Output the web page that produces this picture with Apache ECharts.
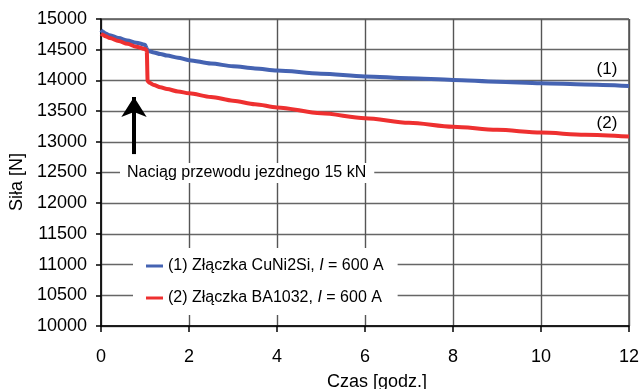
<!DOCTYPE html>
<html>
<head>
<meta charset="utf-8">
<script src="https://cdn.jsdelivr.net/npm/echarts@6/dist/echarts.min.js"></script>
<style>
  html, body { margin: 0; padding: 0; background: #fff; }
  #chart { width: 642px; height: 389px; }
</style>
</head>
<body>
<div id="chart"></div>
<script>
// Time in hours
const czas = [0, 0.05, 0.1, 0.2, 0.4, 0.6, 0.8, 1.0, 1.03, 1.04, 1.06, 1.1, 1.2, 1.35, 1.5, 1.75, 2, 2.5, 3, 3.5, 4, 5, 6, 7, 8, 9, 10, 11, 12];

// (1) CuNi2Si joint, force [N]
const silaCuNi2Si = [14820, 14790, 14765, 14735, 14690, 14650, 14615, 14580, 14540, 14510, 14490, 14475, 14455, 14430, 14405, 14370, 14330, 14275, 14230, 14195, 14160, 14110, 14065, 14035, 14008, 13980, 13955, 13935, 13910];

// (2) BA1032 joint, force [N]
const silaBA1032 = [14760, 14740, 14720, 14690, 14640, 14595, 14550, 14510, 14495, 14480, 13990, 13960, 13925, 13890, 13860, 13820, 13790, 13730, 13670, 13612, 13560, 13465, 13385, 13310, 13245, 13195, 13150, 13115, 13085];

const nazwySerii = ['(1) Złączka CuNi2Si, I = 600 A', '(2) Złączka BA1032, I = 600 A'];
const xTicks = [0, 12, 2];         // min, max, interval
const yTicks = [10000, 15000, 500];

// Arrow marking the contact-wire tension step: [time, from force, to force]
const strzalka = [0.75, 12800, 13730];

const FONT = '"Liberation Sans", Arial, Helvetica, sans-serif';

const chart = echarts.init(document.getElementById('chart'), null, { renderer: 'canvas' });

function pary(xs, ys) { return xs.map((x, i) => [x, ys[i]]); }

chart.setOption({
  animation: false,
  backgroundColor: '#fff',
  textStyle: { fontFamily: FONT },
  grid: {
    left: 101, top: 19, right: 13, bottom: 63,
    show: true, borderColor: '#000', borderWidth: 1
  },
  xAxis: {
    type: 'value',
    min: xTicks[0], max: xTicks[1], interval: xTicks[2],
    axisLine: { show: true, onZero: false, lineStyle: { color: '#000', width: 1.5 } },
    axisTick: { show: true, length: 6, lineStyle: { color: '#000', width: 1.5 } },
    axisLabel: { color: '#000', fontSize: 18, margin: 22, fontFamily: FONT },
    splitLine: { show: true, lineStyle: { color: '#555', width: 1.4 } }
  },
  yAxis: {
    type: 'value',
    min: yTicks[0], max: yTicks[1], interval: yTicks[2],
    axisLine: { show: true, onZero: false, lineStyle: { color: '#000', width: 1.5 } },
    axisTick: { show: true, length: 5, lineStyle: { color: '#000', width: 1.5 } },
    axisLabel: { color: '#000', fontSize: 18, margin: 14, fontFamily: FONT, formatter: function (v) { return String(v); } },
    splitLine: { show: true, lineStyle: { color: '#666', width: 1.4 } }
  },
  legend: {
    orient: 'vertical',
    left: 133, top: 248,
    padding: [10, 14, 9, 13],
    backgroundColor: '#fff',
    itemGap: 16,
    itemWidth: 17, itemHeight: 3,
    icon: 'rect',
    data: nazwySerii,
    formatter: function (name) {
      const parts = name.split('I = ');
      return '{n|' + parts[0] + '}{i|I}{n| = ' + parts[1] + '}';
    },
    textStyle: {
      color: '#000', fontSize: 16, fontFamily: FONT,
      rich: {
        n: { fontSize: 16, fontFamily: FONT, color: '#000' },
        i: { fontSize: 16, fontFamily: FONT, fontStyle: 'italic', color: '#000' }
      }
    },
    z: 10
  },
  series: [
    {
      name: nazwySerii[0],
      type: 'line',
      data: pary(czas, silaCuNi2Si),
      showSymbol: false,
      smooth: 0.3,
      smoothMonotone: 'x',
      color: '#4563b2',
      lineStyle: { color: '#4563b2', width: 4 },
      z: 3
    },
    {
      name: nazwySerii[1],
      type: 'line',
      data: pary(czas, silaBA1032),
      showSymbol: false,
      smooth: 0.3,
      smoothMonotone: 'x',
      color: '#ee3030',
      lineStyle: { color: '#ee3030', width: 4 },
      z: 4,
      markLine: {
        silent: true,
        symbol: ['none', 'arrow'],
        symbolSize: [19, 20],
        label: { show: false },
        lineStyle: { color: '#000', width: 4, type: 'solid' },
        data: [[
          { coord: [strzalka[0], strzalka[1]] },
          { coord: [strzalka[0], strzalka[2]] }
        ]]
      }
    }
  ],
  graphic: [
    {
      type: 'text', left: 120, top: 163, z: 100,
      style: {
        text: 'Naciąg przewodu jezdnego 15 kN',
        font: '16px ' + FONT, fill: '#000',
        backgroundColor: '#fff', padding: [2, 8, 2, 7]
      }
    },
    {
      type: 'text', x: 607, y: 69, z: 100,
      style: { text: '(1)', font: '17px ' + FONT, fill: '#000', align: 'center', verticalAlign: 'middle' }
    },
    {
      type: 'text', x: 607, y: 123, z: 100,
      style: { text: '(2)', font: '17px ' + FONT, fill: '#000', align: 'center', verticalAlign: 'middle' }
    },
    {
      type: 'text', x: 377, y: 382, z: 100,
      style: { text: 'Czas [godz.]', font: '18px ' + FONT, fill: '#000', align: 'center', verticalAlign: 'middle' }
    },
    {
      type: 'text', x: 17, y: 182, rotation: Math.PI / 2, z: 100,
      style: { text: 'Siła [N]', font: '18px ' + FONT, fill: '#000', align: 'center', verticalAlign: 'middle' }
    }
  ]
});
</script>
</body>
</html>
